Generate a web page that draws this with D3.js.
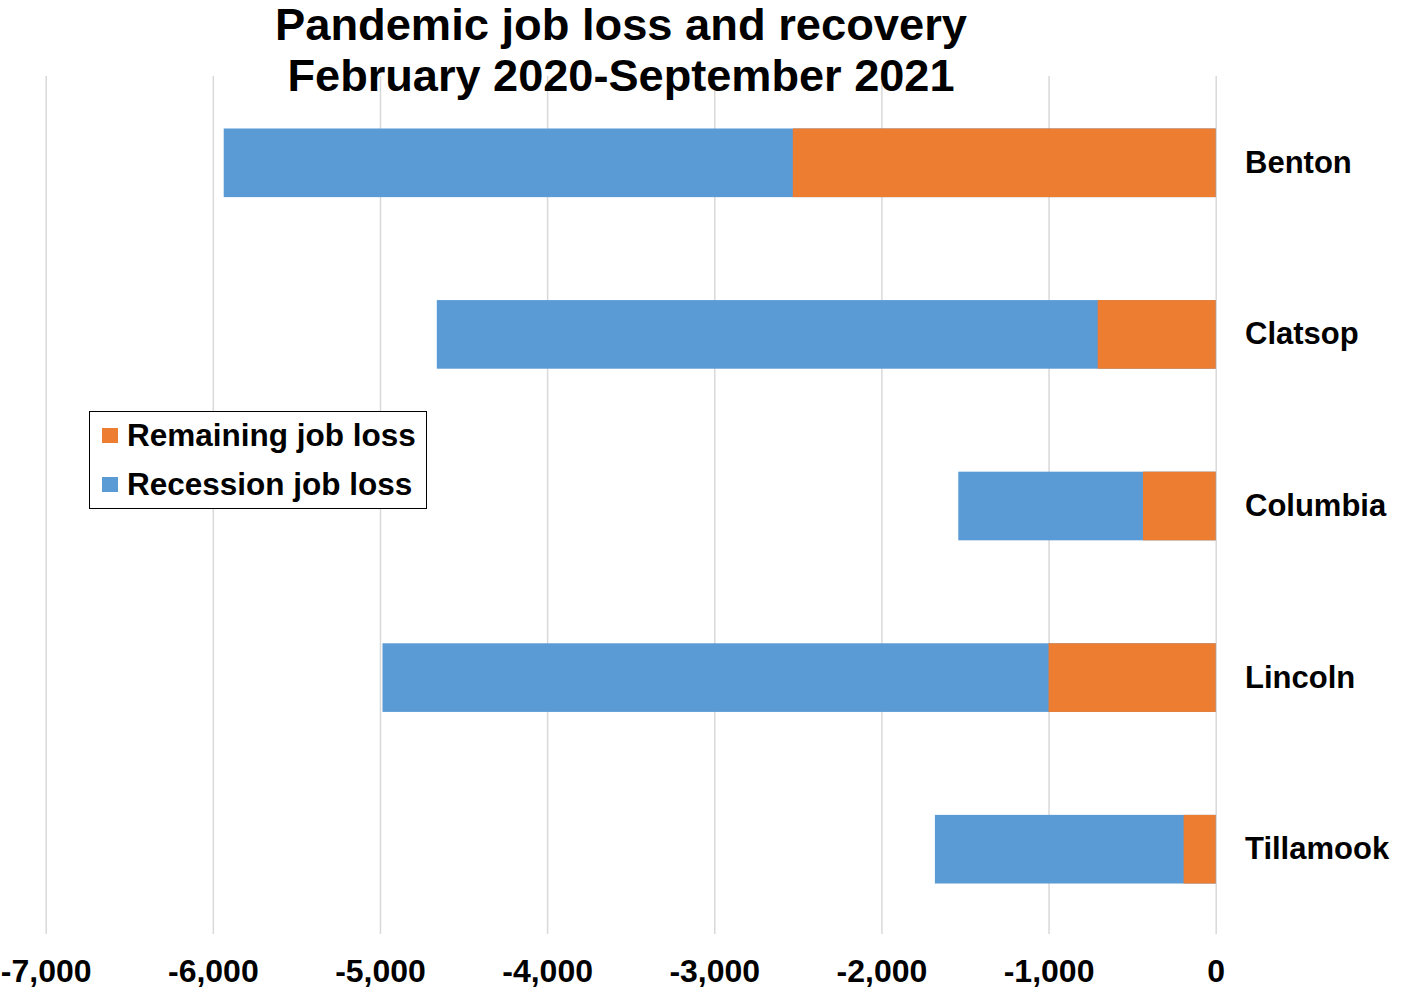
<!DOCTYPE html>
<html>
<head>
<meta charset="utf-8">
<script src="https://cdn.jsdelivr.net/npm/d3@7"></script>
<style>
  body { margin: 0; background: #fff; }
  text { font-family: "Liberation Sans", Arial, sans-serif; font-weight: bold; fill: #000; }
</style>
</head>
<body>
<div id="main"></div>
<script>
var counties = ['Benton', 'Clatsop', 'Columbia', 'Lincoln', 'Tillamook'];
var recessionLoss = [-5935, -4660, -1540, -4985, -1680];
var remainingLoss = [-2530, -706, -435, -1000, -192];
var xTicks = [-7000, -6000, -5000, -4000, -3000, -2000, -1000, 0];
var titleLines = ['Pandemic job loss and recovery', 'February 2020-September 2021'];
var legendItems = [
  {label: 'Remaining job loss', color: '#ED7D31'},
  {label: 'Recession job loss', color: '#5B9BD5'}
];

function Sketch() {
  this.width = 1403;
  this.height = 994;
}

Sketch.prototype.init = function() {
  this.svg = d3.select('#main')
    .append('svg')
    .attr('width', this.width)
    .attr('height', this.height);

  this.x = d3.scaleLinear()
    .domain([-7000, 0])
    .range([45.7, 1215.7]);

  this.y = d3.scaleBand()
    .domain(counties)
    .range([77, 935])
    .paddingInner(0.6)
    .paddingOuter(0.3);
};

Sketch.prototype.update = function() {
  this.data = counties.map(function(c, i) {
    return {name: c, recession: recessionLoss[i], remaining: remainingLoss[i]};
  });
};

Sketch.prototype.render = function() {
  var x = this.x, y = this.y, svg = this.svg;

  // gridlines + tick labels
  var fmt = d3.format(',');
  var axis = d3.axisBottom(x)
    .tickValues(xTicks)
    .tickSize(-(935 - 77))
    .tickFormat(function(d) { return fmt(d).replace('\u2212', '-'); });

  var ax = svg.append('g')
    .attr('transform', 'translate(0,934)')
    .call(axis);
  ax.select('.domain').remove();
  ax.selectAll('.tick line')
    .attr('stroke', '#d9d9d9')
    .attr('stroke-width', 1.5);
  ax.selectAll('.tick text')
    .attr('y', 48)
    .attr('dy', 0)
    .attr('font-size', 32)
    .attr('fill', '#000');

  // bars: recession first, remaining overlaid
  var g = svg.append('g').attr('class', 'bars');
  g.selectAll('rect.recession')
    .data(this.data)
    .enter()
    .append('rect')
    .attr('class', 'recession')
    .attr('x', function(d) { return x(d.recession); })
    .attr('y', function(d) { return y(d.name); })
    .attr('width', function(d) { return x(0) - x(d.recession); })
    .attr('height', y.bandwidth())
    .attr('fill', '#5B9BD5');

  g.selectAll('rect.remaining')
    .data(this.data)
    .enter()
    .append('rect')
    .attr('class', 'remaining')
    .attr('x', function(d) { return x(d.remaining); })
    .attr('y', function(d) { return y(d.name); })
    .attr('width', function(d) { return x(0) - x(d.remaining); })
    .attr('height', y.bandwidth())
    .attr('fill', '#ED7D31');

  // category labels
  svg.append('g').selectAll('text')
    .data(counties)
    .enter()
    .append('text')
    .attr('x', 1245)
    .attr('y', function(d) { return y(d) + y.bandwidth() / 2 + 10; })
    .attr('font-size', 31)
    .text(function(d) { return d; });

  // title, stretched to the reference widths
  var titleWidths = [692, 667];
  svg.append('g').selectAll('text')
    .data(titleLines)
    .enter()
    .append('text')
    .attr('x', 621)
    .attr('y', function(d, i) { return 40 + i * 51; })
    .attr('text-anchor', 'middle')
    .attr('font-size', 44)
    .attr('textLength', function(d, i) { return titleWidths[i]; })
    .attr('lengthAdjust', 'spacingAndGlyphs')
    .text(function(d) { return d; });

  // legend
  var lg = svg.append('g').attr('class', 'legend');
  lg.append('rect')
    .attr('x', 89.5)
    .attr('y', 411.5)
    .attr('width', 337)
    .attr('height', 97)
    .attr('fill', '#fff')
    .attr('stroke', '#000')
    .attr('stroke-width', 1);

  var items = lg.selectAll('g.item')
    .data(legendItems)
    .enter()
    .append('g')
    .attr('class', 'item')
    .attr('transform', function(d, i) { return 'translate(0,' + (i * 49) + ')'; });

  items.append('rect')
    .attr('x', 102)
    .attr('y', 428)
    .attr('width', 16)
    .attr('height', 15)
    .attr('fill', function(d) { return d.color; });

  items.append('text')
    .attr('x', 127)
    .attr('y', 446)
    .attr('font-size', 31.5)
    .text(function(d) { return d.label; });
};

document.addEventListener('DOMContentLoaded', function() {
  var s = new Sketch();
  s.init();
  s.update();
  s.render();
});
</script>
</body>
</html>
